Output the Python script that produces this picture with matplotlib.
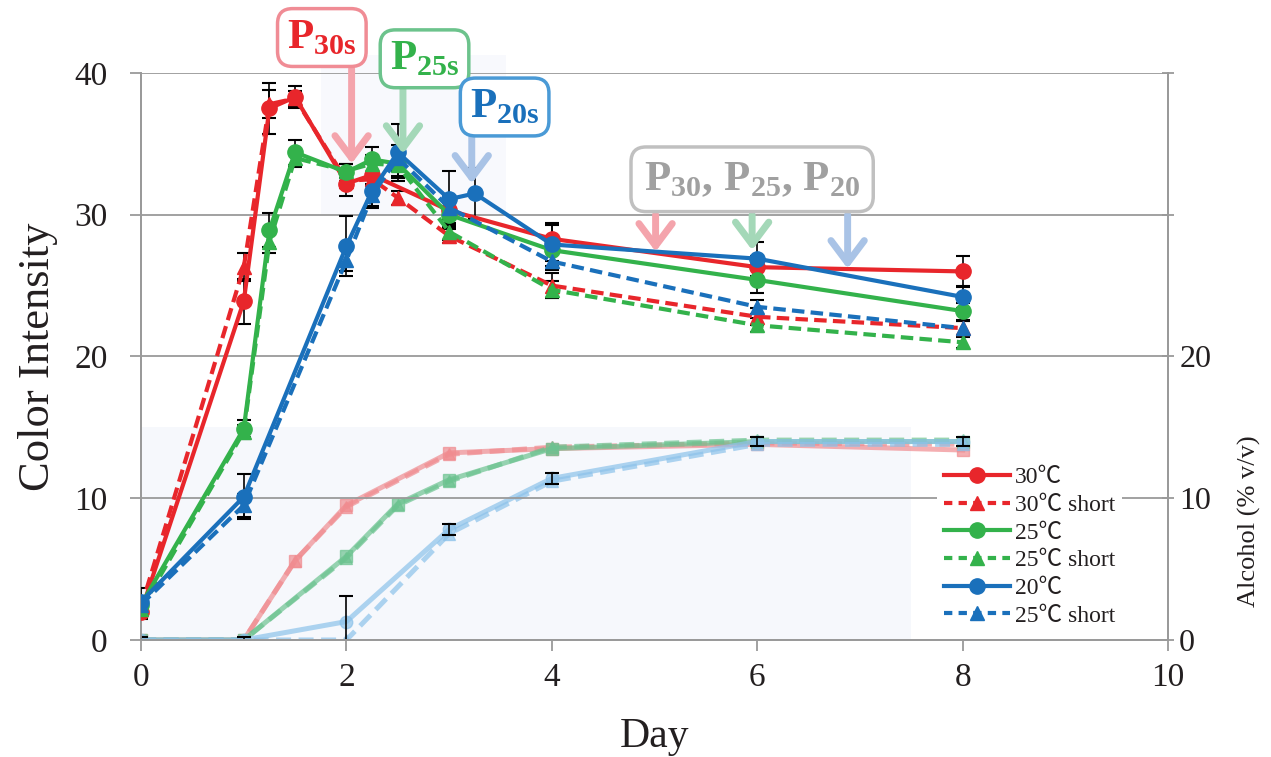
import numpy as np
import matplotlib

matplotlib.use("Agg")
import matplotlib.pyplot as plt
from matplotlib.lines import Line2D
from matplotlib.patches import Rectangle

plt.rcParams["font.family"] = ["Liberation Serif", "Noto Sans CJK JP", "DejaVu Sans"]
plt.rcParams["mathtext.fontset"] = "custom"
plt.rcParams["mathtext.rm"] = "Liberation Serif"
plt.rcParams["mathtext.bf"] = "Liberation Serif:bold"

# ── Color intensity (left axis) ──
red_days = [0, 1, 1.25, 1.5, 2, 2.25, 3, 4, 6, 8]
red_ci = [2.0, 23.9, 37.5, 38.3, 32.2, 32.8, 30.3, 28.3, 26.3, 26.0]
red_ci_err = [0.5, 1.6, 1.8, 0.8, 0.9, 0.8, 1.0, 1.0, 0.8, 1.1]

red_s_days = [0, 1, 1.25, 1.5, 2, 2.25, 2.5, 3, 4, 6, 8]
red_s_ci = [2.3, 26.3, 37.8, 38.2, 32.4, 32.5, 31.2, 28.5, 25.0, 22.8, 22.0]
red_s_err = [0.3, 1.0, 1.0, 0.5, 0.5, 0.5, 0.5, 0.5, 0.9, 0.6, 0.5]

green_days = [0, 1, 1.25, 1.5, 2, 2.25, 2.5, 3, 4, 6, 8]
green_ci = [2.5, 14.9, 28.9, 34.4, 33.0, 33.9, 33.6, 30.0, 27.5, 25.4, 23.2]
green_ci_err = [0.4, 0.6, 1.2, 0.9, 0.6, 0.9, 1.0, 0.8, 0.8, 0.9, 0.6]

green_s_days = [0, 1, 1.25, 1.5, 2, 2.25, 2.5, 3, 4, 6, 8]
green_s_ci = [2.2, 14.7, 28.1, 34.0, 33.1, 33.6, 33.5, 28.8, 24.7, 22.2, 21.0]
green_s_err = [0.3, 0.5, 0.8, 0.6, 0.5, 0.6, 0.8, 0.6, 0.6, 0.5, 0.4]

blue_days = [0, 1, 2, 2.25, 2.5, 3, 3.25, 4, 6, 8]
blue_ci = [2.7, 10.1, 27.8, 31.7, 34.4, 31.1, 31.5, 27.9, 26.9, 24.2]
blue_ci_err = [1.0, 1.6, 2.1, 1.2, 2.0, 2.0, 1.8, 1.5, 1.2, 0.8]

blue_s_days = [0, 1, 2, 2.25, 2.5, 3, 4, 6, 8]
blue_s_ci = [2.5, 9.5, 26.8, 31.4, 34.0, 30.5, 26.7, 23.5, 22.0]
blue_s_err = [0.4, 0.8, 0.8, 0.8, 0.9, 0.8, 0.6, 0.5, 0.5]

# ── Alcohol (right axis) ──
red_alc_days = [0, 1, 1.5, 2, 3, 4, 6, 8]
red_alc = [0, 0, 5.6, 9.5, 13.2, 13.5, 13.8, 13.4]
red_s_alc = [0, 0, 5.6, 9.4, 13.1, 13.6, 13.9, 13.8]

green_alc_days = [0, 1, 2, 2.5, 3, 4, 6, 8]
green_alc = [0, 0, 5.9, 9.6, 11.3, 13.5, 14.0, 14.0]
green_s_alc = [0, 0, 5.8, 9.5, 11.2, 13.6, 14.1, 14.1]

blue_alc_days = [0, 1, 2, 3, 4, 6, 8]
blue_alc = [0, 0, 1.3, 7.8, 11.4, 14.0, 14.0]
blue_alc_err = [0.2, 0.2, 1.8, 0.4, 0.4, 0.3, 0.3]
blue_s_alc = [0, 0, 0, 7.5, 11.2, 13.8, 13.8]

legend_labels = ["30\u2103", "30\u2103 short", "25\u2103", "25\u2103 short",
                 "20\u2103", "25\u2103 short"]

RED = "#e8262b"
GREEN = "#33b24b"
BLUE = "#1a70bb"
PALE = {RED: "#f08c90", GREEN: "#6cc390", BLUE: "#8cc2ea"}
TXT = "#231f20"
GRID = "#9a9a9a"

fig = plt.figure(figsize=(12.71, 7.57), dpi=100)
ax = fig.add_axes([0.111, 0.1546, 0.808, 0.749])
ax2 = ax.twinx()
ax.set_zorder(2)
ax2.set_zorder(1)
ax.patch.set_visible(False)

# faint panels left over from the composited source figure
ax2.add_patch(Rectangle((0, 0), 7.5, 15, facecolor="#f6f8fc", edgecolor="none", zorder=0))
ax2.add_patch(Rectangle((1.75, 30), 1.8, 11.3, facecolor="#f8f9fd", edgecolor="none",
                        zorder=0, clip_on=False))

# alcohol curves
alc = [
    (red_alc_days, red_alc, None, RED, "-", "s"),
    (red_alc_days, red_s_alc, None, RED, "--", "^"),
    (green_alc_days, green_alc, None, GREEN, "-", "s"),
    (green_alc_days, green_s_alc, None, GREEN, "--", "^"),
    (blue_alc_days, blue_alc, blue_alc_err, BLUE, "-", "o"),
    (blue_alc_days, blue_s_alc, None, BLUE, "--", "^"),
]
for d, v, e, c, ls, m in alc:
    ax2.plot(d, v, color=PALE[c], ls=ls, lw=3.6, marker=m, ms=9, alpha=0.7,
             dashes=(3, 1.5) if ls == "--" else (None, None), zorder=2)
    if e is not None:
        ax2.errorbar(d, v, yerr=e, fmt="none", ecolor="black", elinewidth=1.2,
                     capsize=5, capthick=1.5, zorder=3)

# color intensity curves
series = [
    (red_days, red_ci, red_ci_err, RED, "-", "o"),
    (red_s_days, red_s_ci, red_s_err, RED, "--", "^"),
    (green_days, green_ci, green_ci_err, GREEN, "-", "o"),
    (green_s_days, green_s_ci, green_s_err, GREEN, "--", "^"),
    (blue_days, blue_ci, blue_ci_err, BLUE, "-", "o"),
    (blue_s_days, blue_s_ci, blue_s_err, BLUE, "--", "^"),
]
for d, v, e, c, ls, m in series:
    ax.errorbar(d, v, yerr=e, fmt="none", ecolor="black", elinewidth=1.2,
                capsize=5, capthick=1.5, zorder=3)
    if ls == "--":
        ax.plot(d, v, color=c, lw=3, ls="--", dashes=(3, 1.5), marker=m, ms=10, zorder=4)
    else:
        ax.plot(d, v, color=c, lw=3, marker=m, ms=11, zorder=4)

# axes styling
ax.set_xlim(0, 10)
ax.set_ylim(0, 40)
ax2.set_ylim(0, 40)
ax.set_xticks(np.arange(0, 11, 2))
ax.set_yticks(np.arange(0, 41, 10))
ax2.set_yticks(np.arange(0, 41, 10))
ax2.set_yticklabels(["0", "10", "20", "", ""])
ax.yaxis.grid(True, color=GRID, lw=1.3, zorder=1)
ax.set_axisbelow(True)
for a in (ax, ax2):
    a.spines["top"].set_visible(False)
    for side in ("left", "right", "bottom"):
        a.spines[side].set_color(GRID)
        a.spines[side].set_linewidth(1.3)
ax.tick_params(axis="both", colors=GRID, labelcolor=TXT, labelsize=24, length=8, width=1.3)
ax.tick_params(axis="y", pad=16)
ax.tick_params(axis="x", pad=8)
ax2.tick_params(axis="y", colors=GRID, labelcolor=TXT, labelsize=23, length=8, width=1.3,
                direction="inout", pad=4)
ax.set_xlabel("Day", fontsize=30, color=TXT, labelpad=18)
ax.set_ylabel("Color Intensity", fontsize=32, color=TXT, labelpad=12)
ax2.set_ylabel("Alcohol (% v/v)", fontsize=19, color=TXT)
ax2.yaxis.set_label_coords(1.068, 0.21)

# peak callouts
boxes = [
    (1.76, 42.5, r"$\mathbf{P}_{\mathbf{30s}}$", RED, "#f08c95", 0.22),
    (2.76, 41.0, r"$\mathbf{P}_{\mathbf{25s}}$", GREEN, "#6cc38c", 0.22),
    (3.54, 37.6, r"$\mathbf{P}_{\mathbf{20s}}$", BLUE, "#4a9ad6", 0.22),
    (5.95, 32.5, r"$\mathbf{P}_{\mathbf{30}}$, $\mathbf{P}_{\mathbf{25}}$, $\mathbf{P}_{\mathbf{20}}$",
     "#a0a0a0", "#c0c0c0", 0.3),
]
for x, y, s, c, ec, pad in boxes:
    ax.text(x, y, s, color=c, fontsize=31, fontweight="bold", ha="center", va="center",
            zorder=6, clip_on=False,
            bbox=dict(boxstyle=f"round,pad={pad},rounding_size=0.35", fc="white", ec=ec, lw=2.5))

arrows = [
    (2.05, 40.3, 33.6, "#f4a4ac"),
    (2.55, 38.9, 34.3, "#a4d8b8"),
    (3.22, 35.6, 32.2, "#a9c3e6"),
    (5.01, 30.0, 27.4, "#f4a4ac"),
    (5.95, 30.0, 27.5, "#a4d8b8"),
    (6.88, 30.0, 26.2, "#a9c3e6"),
]
for x, y0, y1, c in arrows:
    ax.annotate("", xy=(x, y1), xytext=(x, y0), zorder=5,
                arrowprops=dict(arrowstyle="->,head_length=0.8,head_width=0.6",
                                mutation_scale=20, color=c, lw=5, shrinkA=0, shrinkB=0))

# legend
handles = [
    Line2D([], [], color=RED, lw=3, marker="o", ms=11),
    Line2D([], [], color=RED, lw=3, ls="--", dashes=(2, 1.5), marker="^", ms=10),
    Line2D([], [], color=GREEN, lw=3, marker="o", ms=11),
    Line2D([], [], color=GREEN, lw=3, ls="--", dashes=(2, 1.5), marker="^", ms=10),
    Line2D([], [], color=BLUE, lw=3, marker="o", ms=11),
    Line2D([], [], color=BLUE, lw=3, ls="--", dashes=(2, 1.5), marker="^", ms=10),
]
leg = ax.legend(handles, legend_labels, loc="upper left", bbox_to_anchor=(0.775, 0.318),
                fontsize=17, frameon=True, facecolor="white", edgecolor="none",
                framealpha=1, fancybox=False, labelspacing=0.26, handlelength=2.8,
                handletextpad=0.2, borderpad=0.3, borderaxespad=0)
for t in leg.get_texts():
    t.set_color(TXT)

fig.savefig("out.png", dpi=100, facecolor="white")
